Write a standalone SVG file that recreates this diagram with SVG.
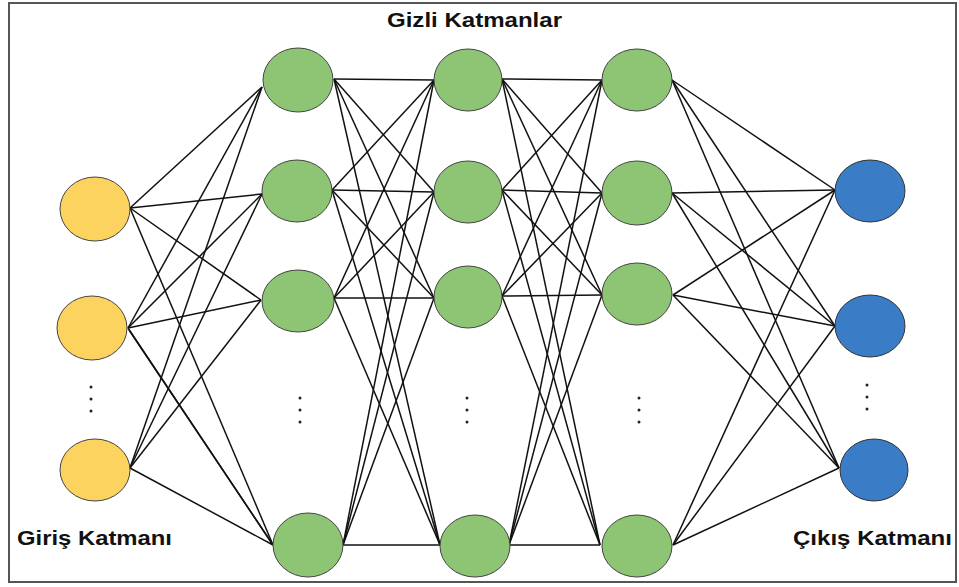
<svg xmlns="http://www.w3.org/2000/svg" width="959" height="587" viewBox="0 0 959 587">
<style>
.in{fill:#FDD35F;stroke:#444;stroke-width:1}
.hid{fill:#8DC574;stroke:#444;stroke-width:1}
.out{fill:#3A7DC6;stroke:#333;stroke-width:1}
.lbl{font-family:"Liberation Sans",Arial,sans-serif;font-weight:bold;font-size:21px;fill:#111}
#connectors line{stroke:#111;stroke-width:1.5}
.dot{fill:#222}
</style>
<rect x="9" y="3" width="947" height="579" fill="#fff" stroke="#555" stroke-width="2"/>
<g id="connectors">
<!-- input to H1 -->
<line x1="130" y1="208" x2="262" y2="87"/><line x1="130" y1="208" x2="262" y2="194"/><line x1="130" y1="208" x2="261" y2="300"/><line x1="130" y1="208" x2="273" y2="545"/>
<line x1="128" y1="328" x2="262" y2="87"/><line x1="128" y1="328" x2="262" y2="194"/><line x1="128" y1="328" x2="261" y2="300"/><line x1="128" y1="328" x2="273" y2="545"/><line x1="129" y1="330" x2="273" y2="545"/>
<line x1="130" y1="468" x2="262" y2="87"/><line x1="130" y1="468" x2="262" y2="194"/><line x1="130" y1="468" x2="261" y2="300"/><line x1="130" y1="468" x2="273" y2="545"/>
<!-- H1 to H2 -->
<line x1="334" y1="79" x2="434" y2="80"/><line x1="334" y1="79" x2="434" y2="192"/><line x1="334" y1="79" x2="434" y2="298"/><line x1="334" y1="79" x2="440" y2="545"/>
<line x1="332" y1="190" x2="434" y2="80"/><line x1="332" y1="190" x2="434" y2="192"/><line x1="332" y1="190" x2="434" y2="298"/><line x1="332" y1="190" x2="440" y2="545"/>
<line x1="334" y1="298" x2="434" y2="80"/><line x1="334" y1="298" x2="434" y2="192"/><line x1="334" y1="298" x2="434" y2="298"/><line x1="334" y1="298" x2="440" y2="545"/>
<line x1="343" y1="545" x2="434" y2="80"/><line x1="343" y1="545" x2="434" y2="192"/><line x1="343" y1="545" x2="434" y2="298"/><line x1="343" y1="545" x2="440" y2="545"/>
<!-- H2 to H3 -->
<line x1="502" y1="79" x2="602" y2="80"/><line x1="502" y1="79" x2="602" y2="193"/><line x1="502" y1="79" x2="602" y2="295"/><line x1="502" y1="79" x2="600" y2="545"/>
<line x1="502" y1="190" x2="602" y2="80"/><line x1="502" y1="190" x2="602" y2="193"/><line x1="502" y1="190" x2="602" y2="295"/><line x1="502" y1="190" x2="600" y2="545"/>
<line x1="502" y1="296" x2="602" y2="80"/><line x1="502" y1="296" x2="602" y2="193"/><line x1="502" y1="296" x2="602" y2="295"/><line x1="502" y1="296" x2="600" y2="545"/>
<line x1="509" y1="545" x2="602" y2="80"/><line x1="509" y1="545" x2="602" y2="193"/><line x1="509" y1="545" x2="602" y2="295"/><line x1="509" y1="545" x2="600" y2="545"/>
<!-- H3 to output -->
<line x1="672" y1="80" x2="835" y2="190"/><line x1="672" y1="80" x2="835" y2="326"/><line x1="672" y1="80" x2="839" y2="468"/>
<line x1="672" y1="193" x2="835" y2="190"/><line x1="672" y1="193" x2="835" y2="326"/><line x1="672" y1="193" x2="839" y2="468"/>
<line x1="673" y1="295" x2="835" y2="190"/><line x1="673" y1="295" x2="835" y2="326"/><line x1="673" y1="295" x2="839" y2="468"/>
<line x1="673" y1="545" x2="835" y2="190"/><line x1="673" y1="545" x2="835" y2="326"/><line x1="673" y1="545" x2="839" y2="468"/>
</g>
<g id="input1"><ellipse class="in" cx="95" cy="209" rx="35" ry="32"/></g>
<g id="input2"><ellipse class="in" cx="92" cy="328" rx="35" ry="32"/></g>
<g id="input3"><ellipse class="in" cx="95" cy="470" rx="35" ry="31"/></g>
<g id="h1n1"><ellipse class="hid" cx="298" cy="80" rx="35" ry="32"/></g>
<g id="h1n2"><ellipse class="hid" cx="297" cy="191" rx="35" ry="31"/></g>
<g id="h1n3"><ellipse class="hid" cx="298" cy="301" rx="36" ry="31"/></g>
<g id="h1n4"><ellipse class="hid" cx="308" cy="545" rx="35" ry="32"/></g>
<g id="h2n1"><ellipse class="hid" cx="468" cy="80" rx="34" ry="31"/></g>
<g id="h2n2"><ellipse class="hid" cx="468" cy="192" rx="34" ry="31"/></g>
<g id="h2n3"><ellipse class="hid" cx="468" cy="297" rx="34" ry="31"/></g>
<g id="h2n4"><ellipse class="hid" cx="475" cy="546" rx="35" ry="31"/></g>
<g id="h3n1"><ellipse class="hid" cx="637" cy="80" rx="35" ry="31"/></g>
<g id="h3n2"><ellipse class="hid" cx="637" cy="193" rx="35" ry="32"/></g>
<g id="h3n3"><ellipse class="hid" cx="637" cy="294" rx="35" ry="31"/></g>
<g id="h3n4"><ellipse class="hid" cx="637" cy="546" rx="35" ry="31"/></g>
<g id="out1"><ellipse class="out" cx="870" cy="191" rx="35" ry="31"/></g>
<g id="out2"><ellipse class="out" cx="870" cy="326" rx="35" ry="31"/></g>
<g id="out3"><ellipse class="out" cx="874" cy="470" rx="34" ry="31"/></g>
<g id="dots">
<circle class="dot" cx="91" cy="387" r="1.5"/><circle class="dot" cx="91" cy="399" r="1.5"/><circle class="dot" cx="91" cy="411" r="1.5"/>
<circle class="dot" cx="300" cy="398" r="1.5"/><circle class="dot" cx="300" cy="410" r="1.5"/><circle class="dot" cx="300" cy="422" r="1.5"/>
<circle class="dot" cx="467" cy="398" r="1.5"/><circle class="dot" cx="467" cy="410" r="1.5"/><circle class="dot" cx="467" cy="422" r="1.5"/>
<circle class="dot" cx="639" cy="398" r="1.5"/><circle class="dot" cx="639" cy="410" r="1.5"/><circle class="dot" cx="639" cy="422" r="1.5"/>
<circle class="dot" cx="867" cy="385" r="1.5"/><circle class="dot" cx="867" cy="397" r="1.5"/><circle class="dot" cx="867" cy="409" r="1.5"/>
</g>
<g id="labels">
<text class="lbl" x="387" y="27" textLength="175" lengthAdjust="spacingAndGlyphs">Gizli Katmanlar</text>
<text class="lbl" x="17" y="545" textLength="155" lengthAdjust="spacingAndGlyphs">Giriş Katmanı</text>
<text class="lbl" x="793" y="545" textLength="159" lengthAdjust="spacingAndGlyphs">Çıkış Katmanı</text>
</g>
</svg>
